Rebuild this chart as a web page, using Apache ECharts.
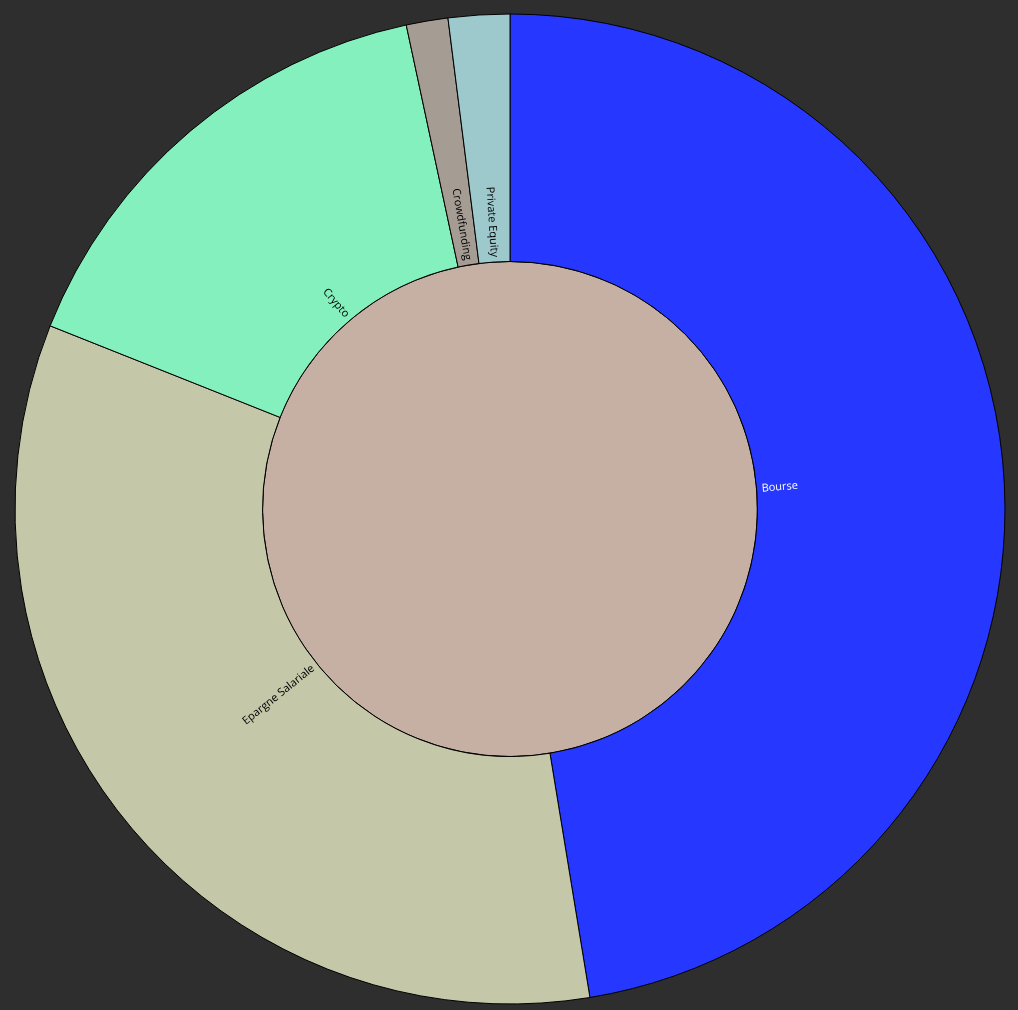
<!DOCTYPE html>
<html>
<head>
<meta charset="utf-8">
<script src="https://cdn.jsdelivr.net/npm/echarts@6/dist/echarts.min.js"></script>
<style>
html,body{margin:0;padding:0;background:#2e2e2e;}
#chart{width:1018px;height:1010px;}
</style>
</head>
<body>
<div id="chart"></div>
<script>
const categories = ['Bourse', 'Epargne Salariale', 'Crypto', 'Crowdfunding', 'Private Equity'];
const values = [47.4, 33.6, 15.6, 1.36, 2.0];
const colors = ['#2638ff', '#c4c8a8', '#84f0bd', '#a59c94', '#9dc8cc'];
const labelColors = ['#ffffff', '#000000', '#000000', '#000000', '#000000'];
const rootName = '';
const rootColor = '#c6b0a4';

const children = categories.map((name, i) => ({
  name: name,
  value: values[i],
  itemStyle: { color: colors[i] },
  label: { color: labelColors[i] }
}));

const chart = echarts.init(document.getElementById('chart'));
chart.setOption({
  backgroundColor: '#2e2e2e',
  animation: false,
  series: [{
    type: 'sunburst',
    center: [510, 509],
    radius: [0, 495],
    sort: null,
    startAngle: 90,
    nodeClick: false,
    emphasis: { disabled: true },
    itemStyle: { borderColor: '#000000', borderWidth: 1 },
    label: {
      rotate: 'radial',
      align: 'left',
      distance: 5,
      fontSize: 11,
      fontFamily: 'Open Sans',
      color: '#000000'
    },
    data: [{
      name: rootName,
      itemStyle: { color: rootColor },
      label: { show: false },
      children: children
    }]
  }]
});
</script>
</body>
</html>
